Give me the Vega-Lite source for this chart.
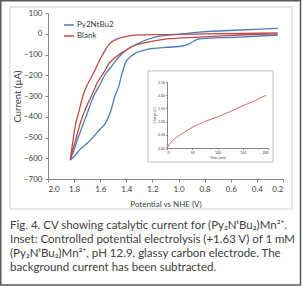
{
  "$schema": "https://vega.github.io/schema/vega-lite/v6.json",
  "width": 235,
  "height": 166,
  "autosize": "none",
  "padding": {"left": 48, "top": 13, "right": 20, "bottom": 107},
  "background": "white",
  "config": {
    "view": {"stroke": null},
    "font": "Lato",
    "axis": {"grid": false, "domainColor": "#868686", "tickColor": "#868686", "labelColor": "#404040", "titleColor": "#404040", "titleFontWeight": "normal", "labelFont": "Lato", "titleFont": "Lato", "labelOverlap": false, "labelBound": false}
  },
  "title": {
    "text": [
      "Fig. 4. CV showing catalytic current for (Py₂NᵗBu₂)Mn²⁺.",
      "Inset: Controlled potential electrolysis (+1.63 V) of 1 mM",
      "(Py₂NᵗBu₂)Mn²⁺, pH 12.9, glassy carbon electrode. The",
      "background current has been subtracted."
    ],
    "orient": "bottom",
    "anchor": "start",
    "frame": "group",
    "dx": -38,
    "dy": -66,
    "offset": 0,
    "font": "Lato",
    "fontSize": 11.5,
    "fontWeight": "normal",
    "lineHeight": 14,
    "color": "#404040"
  },
  "datasets": {
    "one": [{"k": 1}],
    "cv": [
      {"s": "Py2NtBu2", "i": 0, "v": 0.24, "c": -6},
      {"s": "Py2NtBu2", "i": 1, "v": 0.53, "c": -16},
      {"s": "Py2NtBu2", "i": 2, "v": 0.84, "c": -25},
      {"s": "Py2NtBu2", "i": 3, "v": 0.88, "c": -35},
      {"s": "Py2NtBu2", "i": 4, "v": 0.93, "c": -52},
      {"s": "Py2NtBu2", "i": 5, "v": 0.97, "c": -59},
      {"s": "Py2NtBu2", "i": 6, "v": 1.10, "c": -66},
      {"s": "Py2NtBu2", "i": 7, "v": 1.22, "c": -73},
      {"s": "Py2NtBu2", "i": 8, "v": 1.28, "c": -83},
      {"s": "Py2NtBu2", "i": 9, "v": 1.33, "c": -93},
      {"s": "Py2NtBu2", "i": 10, "v": 1.36, "c": -107},
      {"s": "Py2NtBu2", "i": 11, "v": 1.40, "c": -131},
      {"s": "Py2NtBu2", "i": 12, "v": 1.42, "c": -165},
      {"s": "Py2NtBu2", "i": 13, "v": 1.44, "c": -208},
      {"s": "Py2NtBu2", "i": 14, "v": 1.46, "c": -257},
      {"s": "Py2NtBu2", "i": 15, "v": 1.49, "c": -305},
      {"s": "Py2NtBu2", "i": 16, "v": 1.51, "c": -353},
      {"s": "Py2NtBu2", "i": 17, "v": 1.54, "c": -406},
      {"s": "Py2NtBu2", "i": 18, "v": 1.57, "c": -440},
      {"s": "Py2NtBu2", "i": 19, "v": 1.60, "c": -459},
      {"s": "Py2NtBu2", "i": 20, "v": 1.64, "c": -488},
      {"s": "Py2NtBu2", "i": 21, "v": 1.69, "c": -522},
      {"s": "Py2NtBu2", "i": 22, "v": 1.75, "c": -555},
      {"s": "Py2NtBu2", "i": 23, "v": 1.79, "c": -584},
      {"s": "Py2NtBu2", "i": 24, "v": 1.83, "c": -608},
      {"s": "Py2NtBu2", "i": 25, "v": 1.80, "c": -560},
      {"s": "Py2NtBu2", "i": 26, "v": 1.77, "c": -502},
      {"s": "Py2NtBu2", "i": 27, "v": 1.73, "c": -435},
      {"s": "Py2NtBu2", "i": 28, "v": 1.69, "c": -367},
      {"s": "Py2NtBu2", "i": 29, "v": 1.65, "c": -300},
      {"s": "Py2NtBu2", "i": 30, "v": 1.60, "c": -242},
      {"s": "Py2NtBu2", "i": 31, "v": 1.56, "c": -194},
      {"s": "Py2NtBu2", "i": 32, "v": 1.50, "c": -146},
      {"s": "Py2NtBu2", "i": 33, "v": 1.45, "c": -107},
      {"s": "Py2NtBu2", "i": 34, "v": 1.40, "c": -78},
      {"s": "Py2NtBu2", "i": 35, "v": 1.33, "c": -54},
      {"s": "Py2NtBu2", "i": 36, "v": 1.27, "c": -35},
      {"s": "Py2NtBu2", "i": 37, "v": 1.18, "c": -16},
      {"s": "Py2NtBu2", "i": 38, "v": 1.07, "c": -6},
      {"s": "Py2NtBu2", "i": 39, "v": 0.99, "c": -2},
      {"s": "Py2NtBu2", "i": 40, "v": 0.84, "c": 8},
      {"s": "Py2NtBu2", "i": 41, "v": 0.53, "c": 18},
      {"s": "Py2NtBu2", "i": 42, "v": 0.24, "c": 26},
      {"s": "Blank", "i": 0, "v": 0.24, "c": 0},
      {"s": "Blank", "i": 1, "v": 0.53, "c": -6},
      {"s": "Blank", "i": 2, "v": 0.84, "c": -16},
      {"s": "Blank", "i": 3, "v": 1.09, "c": -25},
      {"s": "Blank", "i": 4, "v": 1.27, "c": -45},
      {"s": "Blank", "i": 5, "v": 1.35, "c": -59},
      {"s": "Blank", "i": 6, "v": 1.40, "c": -78},
      {"s": "Blank", "i": 7, "v": 1.47, "c": -107},
      {"s": "Blank", "i": 8, "v": 1.53, "c": -141},
      {"s": "Blank", "i": 9, "v": 1.57, "c": -184},
      {"s": "Blank", "i": 10, "v": 1.62, "c": -233},
      {"s": "Blank", "i": 11, "v": 1.66, "c": -290},
      {"s": "Blank", "i": 12, "v": 1.71, "c": -358},
      {"s": "Blank", "i": 13, "v": 1.75, "c": -425},
      {"s": "Blank", "i": 14, "v": 1.78, "c": -493},
      {"s": "Blank", "i": 15, "v": 1.81, "c": -560},
      {"s": "Blank", "i": 16, "v": 1.83, "c": -608},
      {"s": "Blank", "i": 17, "v": 1.81, "c": -522},
      {"s": "Blank", "i": 18, "v": 1.79, "c": -440},
      {"s": "Blank", "i": 19, "v": 1.76, "c": -367},
      {"s": "Blank", "i": 20, "v": 1.73, "c": -295},
      {"s": "Blank", "i": 21, "v": 1.71, "c": -261},
      {"s": "Blank", "i": 22, "v": 1.68, "c": -223},
      {"s": "Blank", "i": 23, "v": 1.64, "c": -175},
      {"s": "Blank", "i": 24, "v": 1.60, "c": -122},
      {"s": "Blank", "i": 25, "v": 1.56, "c": -78},
      {"s": "Blank", "i": 26, "v": 1.53, "c": -49},
      {"s": "Blank", "i": 27, "v": 1.47, "c": -25},
      {"s": "Blank", "i": 28, "v": 1.35, "c": -8},
      {"s": "Blank", "i": 29, "v": 1.09, "c": -4},
      {"s": "Blank", "i": 30, "v": 0.68, "c": 0},
      {"s": "Blank", "i": 31, "v": 0.24, "c": 4}
    ],
    "inset": [
      {"t": 0, "q": 0},
      {"t": 5, "q": 0.15},
      {"t": 12, "q": 0.3},
      {"t": 25, "q": 0.48},
      {"t": 50, "q": 0.78},
      {"t": 75, "q": 1.0},
      {"t": 100, "q": 1.18},
      {"t": 125, "q": 1.38},
      {"t": 150, "q": 1.6},
      {"t": 175, "q": 1.8},
      {"t": 196, "q": 2.0}
    ]
  },
  "layer": [
    {
      "data": {"name": "one"},
      "layer": [
        {
          "mark": {"type": "rect", "filled": false, "stroke": "#595959", "strokeWidth": 1.5, "clip": false},
          "encoding": {
            "x": {"datum": 2.3618, "type": "quantitative", "axis": null, "scale": {"domain": [0.2, 2.0], "reverse": true, "nice": false, "zero": false}},
            "x2": {"datum": 0.066},
            "y": {"datum": 159.0, "type": "quantitative", "axis": null, "scale": {"domain": [-700, 100], "nice": false, "zero": false}},
            "y2": {"datum": -1210.8}
          }
        },
        {
          "mark": {"type": "rect", "filled": false, "stroke": "#d0d0d0", "strokeWidth": 1, "clip": false},
          "encoding": {
            "x": {"datum": 2.291, "type": "quantitative", "axis": null},
            "x2": {"datum": 0.131},
            "y": {"datum": 128.9, "type": "quantitative", "axis": null},
            "y2": {"datum": -844.6}
          }
        }
      ]
    },
    {
      "data": {"name": "cv"},
      "mark": {"type": "line", "strokeWidth": 1.3, "interpolate": "catmull-rom"},
      "encoding": {
        "x": {
          "field": "v", "type": "quantitative",
          "scale": {"domain": [0.2, 2.0], "reverse": true, "nice": false, "zero": false},
          "axis": {
            "orient": "bottom",
            "title": "Potential vs NHE (V)", "values": [2.0, 1.8, 1.6, 1.4, 1.2, 1.0, 0.8, 0.6, 0.4, 0.2],
            "format": ".1f", "labelFontSize": 8, "titleFontSize": 8, "tickSize": 3, "labelPadding": 3,
            "titleY": 21, "titleBaseline": "top",
            "labelOverlap": false
          }
        },
        "y": {
          "field": "c", "type": "quantitative",
          "scale": {"domain": [-700, 100], "nice": false, "zero": false},
          "axis": {
            "orient": "left",
            "title": "Current (µA)", "values": [-700, -600, -500, -400, -300, -200, -100, 0, 100],
            "labelFontSize": 8, "titleFontSize": 9.5, "tickSize": 3, "labelPadding": 3,
            "titleX": -31, "titleBaseline": "middle",
            "labelOverlap": false
          }
        },
        "color": {
          "field": "s", "type": "nominal",
          "scale": {"domain": ["Py2NtBu2", "Blank"], "range": ["#4a7ebb", "#be4b48"]},
          "legend": {
            "title": null, "orient": "none", "legendX": 15, "legendY": 6,
            "symbolType": "stroke", "symbolSize": 100, "symbolStrokeWidth": 1.5,
            "labelFontSize": 8, "labelColor": "#404040", "rowPadding": 1, "padding": 0, "labelOffset": 2
          }
        },
        "order": {"field": "i", "type": "quantitative"}
      }
    },
    {
      "data": {"name": "one"},
      "mark": {"type": "rect", "fill": "white", "stroke": "#bfbfbf", "strokeWidth": 1},
      "encoding": {
        "x": {"datum": -37.6, "type": "quantitative", "axis": null, "scale": {"domain": [0, 200], "range": [119, 220], "nice": false, "zero": false}},
        "x2": {"datum": 210},
        "y": {"datum": 2.92, "type": "quantitative", "axis": null, "scale": {"domain": [0, 2.5], "range": [135, 69], "nice": false, "zero": false}},
        "y2": {"datum": -0.53}
      }
    },
    {
      "data": {"name": "inset"},
      "mark": {"type": "line", "stroke": "#d46a6a", "strokeWidth": 1, "interpolate": "monotone"},
      "encoding": {
        "x": {
          "field": "t", "type": "quantitative",
          "scale": {"domain": [0, 200], "range": [119, 220], "nice": false, "zero": false},
          "axis": {
            "orient": "bottom", "offset": -31, "zindex": 1, "title": "Time (min)", "values": [0, 50, 100, 150, 200],
            "labelFontSize": 3.5, "titleFontSize": 3.5, "tickSize": 1.5, "labelPadding": 1, "titlePadding": 1, "labelOverlap": false
          }
        },
        "y": {
          "field": "q", "type": "quantitative",
          "scale": {"domain": [0, 2.5], "range": [135, 69], "nice": false, "zero": false},
          "axis": {
            "orient": "left", "offset": -119, "zindex": 1, "title": "Charge (C)", "values": [0, 0.5, 1, 1.5, 2, 2.5], "format": ".2f",
            "labelFontSize": 3.5, "titleFontSize": 3.5, "tickSize": 1.5, "labelPadding": 1, "titlePadding": 1, "labelOverlap": false
          }
        }
      }
    }
  ],
  "resolve": {"scale": {"x": "independent", "y": "independent"}, "axis": {"x": "independent", "y": "independent"}}
}
